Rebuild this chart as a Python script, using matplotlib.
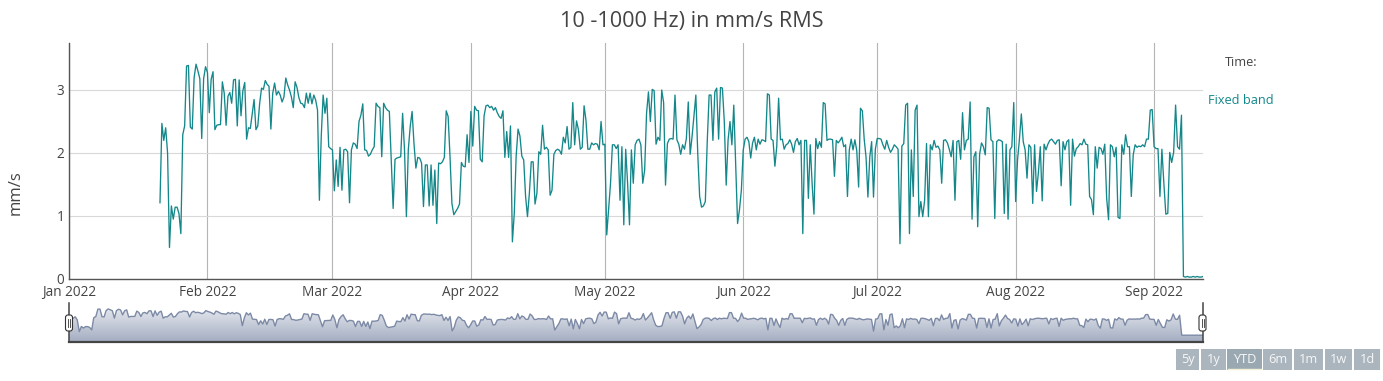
import numpy as np
import pandas as pd
import matplotlib
matplotlib.use('Agg')
import matplotlib.pyplot as plt
from matplotlib.colors import LinearSegmentedColormap
from matplotlib.patches import FancyBboxPatch, Rectangle
from matplotlib.lines import Line2D
from matplotlib.transforms import IdentityTransform
import matplotlib.dates as mdates

plt.rcParams['font.family'] = ['Open Sans', 'DejaVu Sans']

# readings (mm/s RMS), split by month; each month's readings are evenly spaced
seg_starts = ['2022-01-21 09:00', '2022-02-01', '2022-03-01', '2022-04-01', '2022-05-01',
              '2022-06-01', '2022-07-01', '2022-08-01', '2022-09-01']
seg_end = '2022-09-11 23:00'

jan_vals = [1.21, 2.47, 2.2, 2.4, 2.0, 0.5, 1.16, 0.95, 1.14, 1.14, 1.04, 0.72, 2.29, 2.43,
            3.38, 3.39, 2.41, 2.38, 3.2, 3.41, 3.3, 3.18, 2.23, 3.18, 3.37]
feb_vals = [3.28, 2.64, 3.17, 3.29, 2.37, 2.44, 2.45, 2.45, 3.13, 2.95, 2.44, 2.9, 2.96, 2.79,
            3.16, 3.17, 2.43, 3.16, 2.59, 2.99, 3.12, 2.22, 2.4, 2.39, 2.62, 2.85, 2.37, 2.43,
            2.79, 3.03, 3.01, 3.15, 3.09, 3.06, 2.38, 2.95, 3.11, 2.92, 2.98, 2.92, 2.81, 2.89,
            3.19, 3.08, 3.0, 2.89, 2.72, 3.13, 3.04, 2.88, 2.79, 2.78, 2.72, 2.95, 2.79, 2.95,
            2.78, 2.92, 2.84, 2.68, 1.25, 2.27, 2.92, 2.63, 2.87, 2.1, 2.07]
mar_vals = [2.05, 1.4, 1.89, 1.47, 2.09, 1.41, 2.05, 2.06, 2.02, 1.21, 2.05, 2.16, 2.14, 2.07,
            2.5, 2.6, 2.78, 2.05, 2.04, 1.95, 1.98, 2.05, 2.1, 2.79, 2.74, 2.72, 1.94, 2.79,
            2.72, 2.68, 2.66, 1.89, 1.12, 1.9, 1.92, 1.93, 1.94, 2.63, 2.05, 0.99, 2.05, 2.42,
            2.66, 2.15, 1.76, 1.93, 1.92, 1.84, 1.15, 1.81, 1.81, 1.16, 1.81, 1.17, 1.73, 0.88,
            1.84, 1.83, 1.86, 1.93, 2.67, 2.58, 1.94, 1.2, 1.02, 1.07, 1.12, 1.19, 1.85, 1.79,
            1.78, 2.29, 1.85]
apr_vals = [2.66, 2.11, 2.74, 2.68, 2.67, 1.9, 1.86, 2.59, 2.75, 2.76, 2.72, 2.74, 2.68, 2.72,
            2.64, 2.58, 2.55, 2.67, 1.93, 2.34, 1.93, 2.43, 0.59, 1.04, 1.95, 2.38, 2.27, 1.95,
            1.89, 1.31, 0.99, 1.36, 1.86, 1.86, 1.19, 1.36, 2.02, 1.98, 2.44, 2.06, 2.09, 2.05,
            1.33, 1.41, 1.98, 2.04, 2.06, 2.04, 1.98, 2.25, 2.16, 2.42, 2.06, 2.09, 2.8, 2.13,
            2.51, 2.37, 2.06, 2.09, 2.75, 2.52, 2.06, 2.06, 2.16, 2.13, 2.15, 2.14, 2.05, 2.5,
            2.13]
may_vals = [2.14, 0.7, 1.1, 1.52, 2.13, 2.13, 2.07, 2.13, 1.25, 2.1, 0.86, 2.06, 1.52, 0.86,
            2.05, 1.52, 2.13, 2.2, 2.22, 2.13, 1.52, 1.73, 2.63, 2.97, 2.5, 3.01, 2.99, 2.14,
            2.25, 2.2, 3.0, 2.8, 1.49, 2.15, 2.22, 2.23, 2.22, 2.92, 2.21, 2.14, 1.98, 2.13,
            2.06, 2.23, 2.81, 1.98, 2.26, 2.59, 2.92, 1.99, 1.31, 1.14, 1.16, 1.23, 2.18, 2.92,
            2.92, 2.2, 2.97, 3.03, 2.22, 3.04, 3.03, 2.5, 1.49, 2.21, 2.5, 2.13, 2.76, 1.84,
            0.88, 1.1, 1.41]
jun_vals = [2.05, 2.22, 2.25, 2.18, 1.92, 2.16, 2.25, 2.05, 2.22, 2.14, 2.21, 2.2, 2.18, 2.94,
            2.92, 2.22, 2.2, 1.79, 2.1, 2.87, 2.21, 2.22, 2.06, 2.13, 2.15, 2.21, 2.14, 2.01,
            2.18, 2.23, 2.13, 2.2, 0.72, 2.2, 2.2, 1.28, 2.13, 1.52, 1.03, 2.23, 2.07, 2.18,
            2.09, 2.8, 2.78, 2.2, 2.22, 2.22, 2.21, 1.63, 2.2, 2.16, 2.2, 2.25, 2.1, 2.13, 1.31,
            2.05, 2.22, 2.05, 2.21, 2.04, 1.46, 2.71, 2.67, 2.22, 1.93, 1.3, 1.94, 2.18, 1.3,
            2.06]
jul_vals = [2.23, 2.23, 2.22, 2.13, 2.06, 2.2, 2.09, 2.01, 2.06, 2.13, 2.1, 2.06, 0.56, 2.11,
            2.15, 2.76, 2.79, 0.72, 2.05, 1.31, 2.68, 2.76, 0.99, 1.23, 0.99, 1.25, 2.15, 0.99,
            2.13, 2.05, 2.2, 2.09, 2.11, 2.05, 1.52, 2.2, 2.21, 2.16, 2.06, 1.94, 2.2, 1.25,
            2.18, 2.2, 1.9, 2.64, 2.05, 2.2, 2.22, 2.81, 0.95, 1.94, 2.02, 0.83, 1.98, 2.16,
            2.1, 1.97, 2.72, 2.71, 2.21, 2.18, 0.96, 2.18, 2.21, 2.2, 2.18, 1.04, 2.14, 0.95,
            2.05, 2.1, 2.8]
aug_vals = [1.23, 1.89, 2.22, 2.62, 2.18, 2.05, 1.6, 2.13, 2.09, 1.2, 2.13, 1.39, 1.69, 2.1,
            1.24, 2.14, 2.05, 2.14, 2.2, 2.22, 2.18, 2.14, 2.2, 2.21, 1.48, 2.18, 2.05, 2.18,
            2.21, 1.17, 2.22, 1.95, 2.07, 2.1, 2.15, 2.13, 2.22, 2.14, 2.13, 1.31, 1.26, 1.02,
            2.1, 1.76, 2.09, 2.07, 1.98, 2.14, 1.28, 0.94, 2.13, 2.1, 1.94, 2.09, 0.98, 0.96,
            2.13, 1.98, 2.29, 2.1, 2.1, 1.31, 1.97, 2.13, 2.09, 2.11, 2.1, 2.13, 2.1, 2.22,
            2.22, 2.68, 2.69]
sep_vals = [2.1, 2.07, 2.07, 1.31, 2.06, 1.52, 1.03, 1.04, 2.01, 1.85, 2.01, 2.76, 2.1, 2.06,
            2.6, 0.04, 0.03, 0.04, 0.03, 0.03, 0.04, 0.03, 0.04, 0.03, 0.03, 0.04]

month_ticks = pd.date_range('2022-01-01', '2022-09-01', freq='MS')
buttons = ['5y', '1y', 'YTD', '6m', '1m', '1w', '1d']

segments = [jan_vals, feb_vals, mar_vals, apr_vals, may_vals, jun_vals, jul_vals, aug_vals, sep_vals]
times = None
for i, vals in enumerate(segments):
    start = pd.Timestamp(seg_starts[i])
    if i + 1 < len(segments):
        ts = pd.date_range(start, pd.Timestamp(seg_starts[i + 1]), periods=len(vals) + 1)[:-1]
    else:
        ts = pd.date_range(start, pd.Timestamp(seg_end), periods=len(vals))
    times = ts if times is None else times.append(ts)
values = np.concatenate([np.array(v, dtype=float) for v in segments])

W, H = 1383, 381
line_color = '#13878a'
text_color = '#444444'
xmin, xmax = pd.Timestamp('2022-01-01'), pd.Timestamp(seg_end)

fig = plt.figure(figsize=(W / 100, H / 100), dpi=100)

# main plot
ax = fig.add_axes([69 / W, 1 - 279 / H, 1134 / W, 236 / H])
ax.plot(times, values, color=line_color, lw=0.95)
ax.set_xlim(xmin, xmax)
ax.set_ylim(0, 3.746)
ax.set_xticks(month_ticks)
ax.set_xticklabels([d.strftime('%b %Y') for d in month_ticks])
ax.set_yticks([0, 1, 2, 3])
ax.tick_params(length=0, labelsize=9.8, labelcolor=text_color)
ax.tick_params(axis='x', pad=4)
ax.tick_params(axis='y', pad=3.5)
ax.grid(axis='x', color='#b5b5b5', lw=0.8)
ax.grid(axis='y', color='#d9d9d9', lw=0.8)
ax.set_axisbelow(True)
for s in ['top', 'right']:
    ax.spines[s].set_visible(False)
for s in ['left', 'bottom']:
    ax.spines[s].set_color('#555555')
    ax.spines[s].set_linewidth(1.0)

fig.text(0.5, 1 - 22 / H, '10 -1000 Hz) in mm/s RMS', ha='center', va='center',
         fontsize=15.6, color=text_color)
fig.text(16 / W, 1 - 193 / H, 'mm/s', rotation=90, ha='center', va='center',
         fontsize=12, color=text_color)
fig.text(1241 / W, 1 - 62 / H, 'Time:', ha='center', va='center', fontsize=9.2, color=text_color)
fig.text(1208 / W, 1 - 101 / H, 'Fixed band', ha='left', va='center', fontsize=9.2, color=line_color)

# range slider (covers the span of the data)
sax = fig.add_axes([69 / W, 1 - 341.7 / H, 1134 / W, 38.7 / H])
sx0, sx1 = times[0], times[-1]
sax.set_xlim(sx0, sx1)
sax.set_ylim(-0.8, 4.17)
poly = sax.fill_between(times, values, -0.8, color='none', lw=0)
cmap = LinearSegmentedColormap.from_list('slider', ['#eef0f4', '#a3adc1'])
grad = np.linspace(0, 1, 256).reshape(-1, 1)
im = sax.imshow(grad, cmap=cmap, aspect='auto', origin='upper',
                extent=[mdates.date2num(sx0), mdates.date2num(sx1), -0.8, 4.17])
im.set_clip_path(poly.get_paths()[0], transform=sax.transData)
sax.plot(times, values, color='#7d8aa6', lw=1.0)
sax.set_xticks([])
sax.set_yticks([])
sax.spines['top'].set_visible(False)
for s in ['left', 'right']:
    sax.spines[s].set_color('#444444')
    sax.spines[s].set_linewidth(1.1)
sax.spines['bottom'].set_color('#444444')
sax.spines['bottom'].set_linewidth(1.6)

idt = IdentityTransform()
for hx in [69, 1202.5]:
    fig.add_artist(FancyBboxPatch((hx - 3.5, H - 331), 7, 16,
                                  boxstyle='round,pad=0,rounding_size=2.5',
                                  transform=idt, fc='white', ec='#333333', lw=0.8))
    for gx in [hx - 1, hx + 1]:
        fig.add_artist(Line2D([gx, gx], [H - 327, H - 319], transform=idt,
                              color='#333333', lw=0.6))

# range selector buttons
btn_edges = [(1176, 1199), (1201, 1226), (1227, 1262), (1263, 1292),
             (1294, 1323), (1325, 1352), (1354, 1380)]
for label, (bx0, bx1) in zip(buttons, btn_edges):
    active = label == 'YTD'
    fig.add_artist(Rectangle((bx0, H - 370), bx1 - bx0, 21, transform=idt,
                             fc='#9aa8b2' if active else '#aab5be', ec='none'))
    if active:
        fig.add_artist(Line2D([bx0 + 1, bx1 - 1], [H - 369, H - 369], transform=idt,
                              color='#f3f0d6', lw=1.0))
    fig.text((bx0 + bx1) / 2 / W, 1 - 359.5 / H, label, ha='center', va='center',
             fontsize=9.2, color='#f7f7f7')

fig.savefig('out.png', dpi=100)
